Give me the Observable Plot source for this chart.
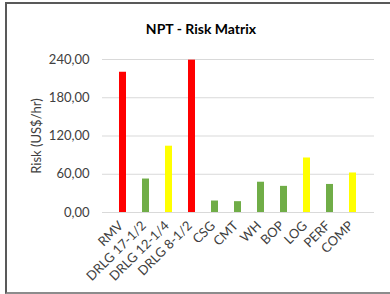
<!DOCTYPE html>
<html>
<head>
<meta charset="utf-8">
<script src="https://cdn.jsdelivr.net/npm/d3@7"></script>
<script src="https://cdn.jsdelivr.net/npm/@observablehq/plot@0.6"></script>
<style>
  html, body { margin: 0; padding: 0; background: #fff; overflow: hidden; width: 390px; height: 294px; }
  #frame { position: absolute; left: 5px; top: 2px; width: 420px; height: 288px;
           border-top: 2px solid #595959; border-left: 2px solid #595959; border-bottom: 2px solid #8c8c8c; }
  #title { position: absolute; left: 0; width: 402px; top: 20px; text-align: center;
           font-family: Lato, sans-serif; font-weight: bold; font-size: 14px; color: #000; }
  #chart { position: absolute; left: 0; top: 45px; }
</style>
</head>
<body>
<div id="frame"></div>
<div id="title">NPT - Risk Matrix</div>
<div id="chart"></div>
<script>
const categories = ["RMV", "DRLG 17-1/2", "DRLG 12-1/4", "DRLG 8-1/2", "CSG", "CMT", "WH", "BOP", "LOG", "PERF", "COMP"];
const values = [220, 52.5, 104, 239, 18, 17, 47.5, 41, 85.5, 44, 62];
const levels = ["High", "Low", "Medium", "High", "Low", "Low", "Low", "Low", "Medium", "Low", "Medium"];
const yTicks = [0, 60, 120, 180, 240];

const data = categories.map((c, i) => ({category: c, value: values[i], level: levels[i]}));

const chart = Plot.plot({
  width: 390,
  height: 249,
  marginTop: 14,
  marginBottom: 82,
  marginLeft: 102,
  marginRight: 16,
  style: {fontFamily: "Lato, sans-serif", fontSize: "13px", color: "#404040", background: "transparent"},
  x: {domain: categories, padding: 0.69},
  y: {domain: [0, 240]},
  color: {domain: ["High", "Medium", "Low"], range: ["#ff0000", "#ffff00", "#70ad47"]},
  marks: [
    Plot.gridY(yTicks, {stroke: "#d9d9d9", strokeOpacity: 1, strokeWidth: 1}),
    Plot.axisY(yTicks, {tickSize: 0, tickPadding: 13, tickFormat: d => d.toFixed(2).replace(".", ","),
      label: "Risk (US$/hr)", labelAnchor: "center", labelArrow: "none", labelOffset: 71, fill: "#404040"}),
    Plot.axisX({tickSize: 0, tickPadding: 11, dx: -2, tickRotate: -45, label: null, fill: "#404040"}),
    Plot.barY(data, {x: "category", y: "value", fill: "level"})
  ]
});
document.getElementById("chart").appendChild(chart);
</script>
</body>
</html>
